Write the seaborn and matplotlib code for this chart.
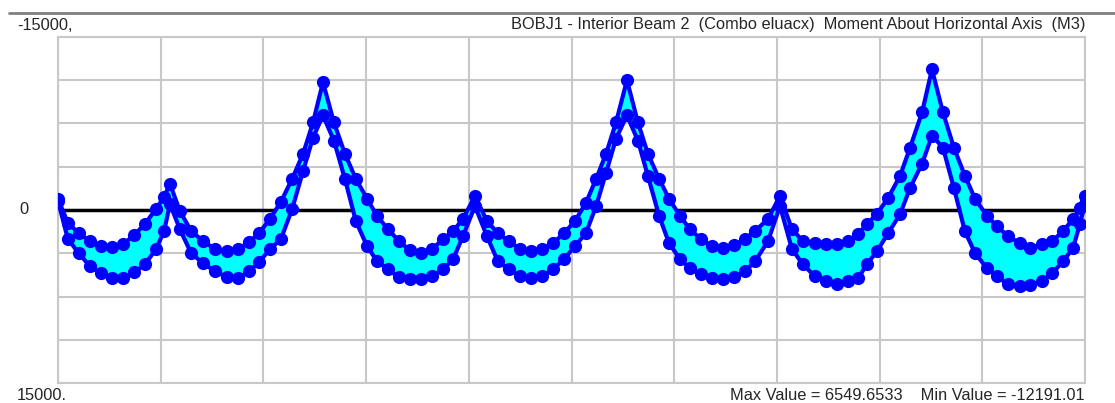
import numpy as np
import pandas as pd
import matplotlib
matplotlib.use("Agg")
import matplotlib.pyplot as plt
from matplotlib.lines import Line2D
import seaborn as sns

# stations along the beam (m) and the moment envelope (kN-m)
station = [
    0.00, 0.29, 0.61, 0.93, 1.26, 1.58, 1.90, 2.22, 2.54, 2.86, 3.10, 3.27,
    3.56, 3.89, 4.24, 4.59, 4.94, 5.26, 5.58, 5.87, 6.19, 6.51, 6.84, 7.16, 7.45, 7.74,
    8.06, 8.38, 8.70, 9.03, 9.32, 9.64, 9.96, 10.28, 10.60, 10.92, 11.25, 11.54, 11.83, 12.18,
    12.53, 12.85, 13.17, 13.50, 13.82, 14.14, 14.46, 14.78, 15.10, 15.42, 15.72, 16.01, 16.30, 16.62,
    16.94, 17.23, 17.56, 17.85, 18.17, 18.46, 18.78, 19.10, 19.43, 19.75, 20.07, 20.36, 20.74, 21.09,
    21.44, 21.76, 22.11, 22.43, 22.76, 23.08, 23.37, 23.63, 23.92, 24.25, 24.60, 24.89, 25.24, 25.53,
    25.85, 26.17, 26.49, 26.79, 27.14, 27.43, 27.75, 28.10, 28.39, 28.74, 29.04, 29.36, 29.65, 29.85, 30.00,
]
m_min = [
    -960, 1130, 2010, 2700, 3140, 3230, 2970, 2180, 1220, -90, -1130, -2270,
    90, 1830, 2700, 3400, 3580, 3400, 2790, 2010, 780, -700, -2700, -4880, -7590, -11080,
    -7590, -4880, -2700, -960, 520, 1660, 2700, 3490, 3750, 3400, 2530, 1830, 780, -1220,
    960, 2010, 2700, 3400, 3580, 3400, 2880, 2010, 960, -610, -2700, -4880, -7590, -11250,
    -7590, -4880, -2700, -960, 520, 1660, 2530, 3140, 3310, 3050, 2530, 1830, 780, -1220,
    1660, 2700, 2880, 2970, 2970, 2700, 2090, 1220, 350, -1050, -2970, -5410, -8460, -12191.01,
    -8460, -5410, -2970, -960, 520, 1400, 2270, 2880, 3310, 2970, 2700, 1830, 780, -170, -1220,
]
m_max = [
    -780, 2530, 3750, 4880, 5490, 5930, 5930, 5410, 4710, 3400, 1830, -520,
    1660, 3750, 4620, 5320, 5840, 5930, 5320, 4530, 3400, 2530, -90, -3400, -6280, -8200,
    -6020, -2700, 960, 3140, 4450, 5150, 5840, 6020, 6020, 5760, 5150, 4270, 2270, -350,
    2270, 4450, 5150, 5760, 5930, 5760, 5150, 4270, 3140, 2010, -350, -3230, -6190, -8200,
    -6020, -2970, 520, 2880, 4270, 5060, 5580, 5930, 6020, 5840, 5320, 4450, 2700, -350,
    3400, 4710, 5760, 6190, 6450, 6190, 5930, 4710, 3580, 2010, 350, -1920, -4010, -6450,
    -5410, -1920, 1830, 3750, 5060, 5760, 6450, 6549.6533, 6500, 6190, 5490, 4450, 3310, 1220, -520,
]

title = "BOBJ1 - Interior Beam 2  (Combo eluacx)  Moment About Horizontal Axis  (M3)"
footer = "Max Value = 6549.6533    Min Value = -12191.01"

df = pd.concat([
    pd.DataFrame({"x": station, "M": m_min, "curve": "min"}),
    pd.DataFrame({"x": station, "M": m_max, "curve": "max"}),
])

sns.set_style("white")
plt.rcParams["font.family"] = ["Liberation Sans", "DejaVu Sans"]

W, H = 1115, 403
fig = plt.figure(figsize=(W / 100, H / 100), dpi=100)
ax = fig.add_axes([58 / W, 20 / H, 1027 / W, 346 / H])

ax.fill_between(station, m_min, m_max, color="#00ffff", lw=0, zorder=2)
ax.axhline(0, color="black", lw=2.5, zorder=1.8)
sns.lineplot(data=df, x="x", y="M", hue="curve", palette=["#0000ff", "#0000ff"],
             estimator=None, sort=False, marker="o", markersize=9.5,
             markeredgewidth=0, linewidth=3, legend=False, ax=ax, zorder=3)

ax.set_xlim(0, 30)
ax.set_ylim(15000, -15000)
ax.set_xticks(np.arange(0, 31, 3))
ax.set_yticks(np.arange(-15000, 15001, 3750))
ax.tick_params(length=0, labelleft=False, labelbottom=False)
ax.grid(True, color="#c8c8c8", lw=1.5)
ax.set_xlabel("")
ax.set_ylabel("")
for s in ax.spines.values():
    s.set_color("#c8c8c8")
    s.set_linewidth(1.5)

fig.add_artist(Line2D([9 / W, 1], [1 - 12.5 / H] * 2, color="#808080", lw=2))
fs = 11.8
fig.text(17 / W, 1 - 25 / H, "-15000,", fontsize=fs, va="center", ha="left")
fig.text(19 / W, 1 - 209 / H, "0", fontsize=fs, va="center", ha="left")
fig.text(17 / W, 1 - 395 / H, "15000.", fontsize=fs, va="center", ha="left")
fig.text(1085 / W, 1 - 25 / H, title, fontsize=fs, va="center", ha="right")
fig.text(1085 / W, 1 - 395 / H, footer, fontsize=fs, va="center", ha="right")

fig.savefig("out.png", dpi=100)
